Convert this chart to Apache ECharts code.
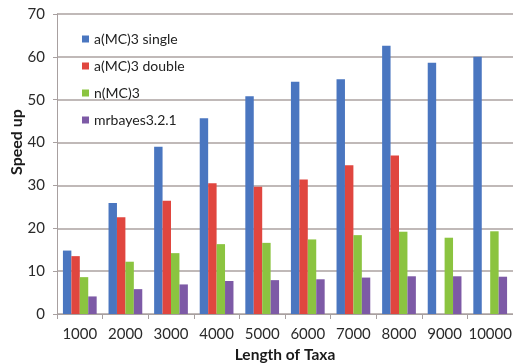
<!DOCTYPE html>
<html>
<head>
<meta charset="utf-8">
<script src="https://cdn.jsdelivr.net/npm/echarts@6/dist/echarts.min.js"></script>
<style>
  html, body { margin: 0; padding: 0; background: #fff; }
  #chart { width: 513px; height: 364px; }
</style>
</head>
<body>
<div id="chart"></div>
<script>
// Taxa lengths on the x axis
const taxaLengths = ['1000', '2000', '3000', '4000', '5000', '6000', '7000', '8000', '9000', '10000'];

// Speed-up per implementation
const singleMC3 = [14.8, 25.9, 39.0, 45.7, 50.8, 54.2, 54.8, 62.6, 58.6, 60.0];
const doubleMC3 = [13.5, 22.6, 26.4, 30.5, 29.7, 31.4, 34.7, 37.0, null, null];
const nMC3      = [8.6, 12.2, 14.2, 16.3, 16.6, 17.4, 18.4, 19.2, 17.8, 19.3];
const mrbayes   = [4.1, 5.8, 6.9, 7.7, 7.9, 8.1, 8.5, 8.8, 8.8, 8.7];

const seriesNames = ['a(MC)3 single', 'a(MC)3 double', 'n(MC)3', 'mrbayes3.2.1'];
const seriesColors = ['#4a76c0', '#e0463f', '#8bc440', '#7d5aa6'];
const seriesData = [singleMC3, doubleMC3, nMC3, mrbayes];

const font = 'Lato, "Open Sans", sans-serif';
const chart = echarts.init(document.getElementById('chart'));

chart.setOption({
  animation: false,
  textStyle: { fontFamily: font },
  grid: { left: 57, right: 0, top: 14, bottom: 50, outerBoundsMode: 'none', containLabel: false },
  legend: {
    orient: 'vertical',
    left: 77,
    top: 27,
    itemWidth: 7,
    itemHeight: 7,
    itemGap: 13,
    icon: 'rect',
    textStyle: { fontSize: 14, color: '#222', fontFamily: font, lineHeight: 14 },
    data: seriesNames
  },
  xAxis: {
    type: 'category',
    data: taxaLengths,
    name: 'Length of Taxa',
    nameLocation: 'middle',
    nameGap: 32,
    nameTextStyle: { fontSize: 15.5, fontWeight: 'bold', color: '#1a1a1a', fontFamily: font },
    axisLine: { lineStyle: { color: '#a8a0a0', width: 1 } },
    axisTick: { show: true, length: 5, lineStyle: { color: '#a8a0a0' } },
    axisLabel: { interval: 0, fontSize: 15, color: '#2a2a2a', margin: 13, fontFamily: font }
  },
  yAxis: {
    type: 'value',
    min: 0,
    max: 70,
    interval: 10,
    name: 'Speed up',
    nameLocation: 'middle',
    nameGap: 32,
    nameMoveOverlap: false,
    nameRotate: 90,
    nameTextStyle: { fontSize: 16, fontWeight: 'bold', color: '#1a1a1a', fontFamily: font, padding: [0, 0, 0, 44] },
    axisLine: { show: true, lineStyle: { color: '#a8a0a0', width: 1 } },
    axisTick: { show: true, length: 4, lineStyle: { color: '#a8a0a0' } },
    axisLabel: { fontSize: 15, color: '#2a2a2a', margin: 12, fontFamily: font },
    splitLine: { lineStyle: { color: '#aba2a0', width: 1.5 } }
  },
  series: seriesNames.map((name, i) => ({
    name,
    type: 'bar',
    data: seriesData[i],
    itemStyle: { color: seriesColors[i] },
    barGap: '0%',
    barCategoryGap: '26%'
  }))
});
</script>
</body>
</html>
